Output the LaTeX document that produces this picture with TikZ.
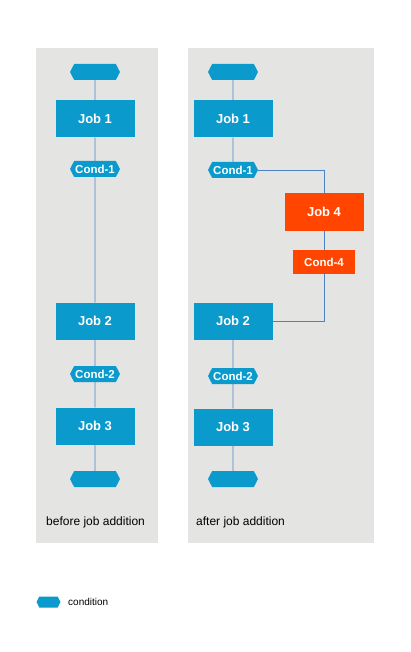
\documentclass[tikz,border=0pt]{standalone}
\usepackage{fontspec}
\setmainfont{Liberation Sans}
\usetikzlibrary{shapes.symbols}
\definecolor{jobblue}{HTML}{0A9ACC}
\definecolor{joborange}{HTML}{FF4500}
\definecolor{panelgray}{HTML}{E4E4E2}
\definecolor{linkblue}{HTML}{4A82C6}
\tikzset{
  panel/.style={fill=panelgray,draw=none},
  job/.style={fill=jobblue,text=white,font=\bfseries\fontsize{13}{15}\selectfont,
    minimum width=79pt,minimum height=37pt,inner sep=0pt},
  newjob/.style={job,fill=joborange},
  cond/.style={signal,signal to=west and east,signal pointer angle=125,fill=jobblue,
    text=white,font=\bfseries\fontsize{11.5}{13}\selectfont,
    minimum width=50pt,minimum height=16pt,inner sep=0pt},
  newcond/.style={fill=joborange,text=white,font=\bfseries\fontsize{11.5}{13}\selectfont,
    minimum width=62pt,minimum height=24pt,inner sep=0pt},
  caption/.style={font=\fontsize{12}{14}\selectfont,anchor=west,inner sep=0pt},
  link/.style={draw=linkblue,line width=0.7pt}
}
\begin{document}
\begin{tikzpicture}[x=1pt,y=-1pt]
  \useasboundingbox (0,0) rectangle (410,652);
  % panels
  \fill[panel] (36,48) rectangle (158,543);
  \fill[panel] (188,48) rectangle (374,543);

  % before job addition
  \node[cond] (ls) at (95,72) {};
  \node[job] (lj1) at (95,119) {Job 1};
  \node[cond] (lc1) at (95,169) {Cond-1};
  \node[job] (lj2) at (95,321) {Job 2};
  \node[cond] (lc2) at (95,374) {Cond-2};
  \node[job] (lj3) at (95,426) {Job 3};
  \node[cond] (le) at (95,479) {};
  \node[caption] (lcap) at (46,522) {before job addition};
  \draw[link] (ls) -- (lj1) -- (lc1) -- (lj2) -- (lc2) -- (lj3) -- (le);

  % after job addition
  \node[cond] (rs) at (233,72) {};
  \node[job] (rj1) at (233,119) {Job 1};
  \node[cond] (rc1) at (233,170) {Cond-1};
  \node[newjob] (rj4) at (324,212) {Job 4};
  \node[newcond] (rc4) at (324,262) {Cond-4};
  \node[job] (rj2) at (233,321) {Job 2};
  \node[cond] (rc2) at (233,376) {Cond-2};
  \node[job] (rj3) at (233,427) {Job 3};
  \node[cond] (re) at (233,479) {};
  \node[caption] (rcap) at (196,522) {after job addition};
  \draw[link] (rs) -- (rj1) -- (rc1);
  \draw[link] (rc1.east) -| (rj4.north);
  \draw[link] (rj4) -- (rc4);
  \draw[link] (rc4.south) |- (rj2.east);
  \draw[link] (rj2) -- (rc2) -- (rj3) -- (re);

  % legend
  \node[cond,minimum width=24pt,minimum height=11pt] (key) at (48.5,602) {};
  \node[anchor=west,inner sep=0pt,font=\fontsize{10}{12}\selectfont] (keytext) at (68,602) {condition};
\end{tikzpicture}
\end{document}
